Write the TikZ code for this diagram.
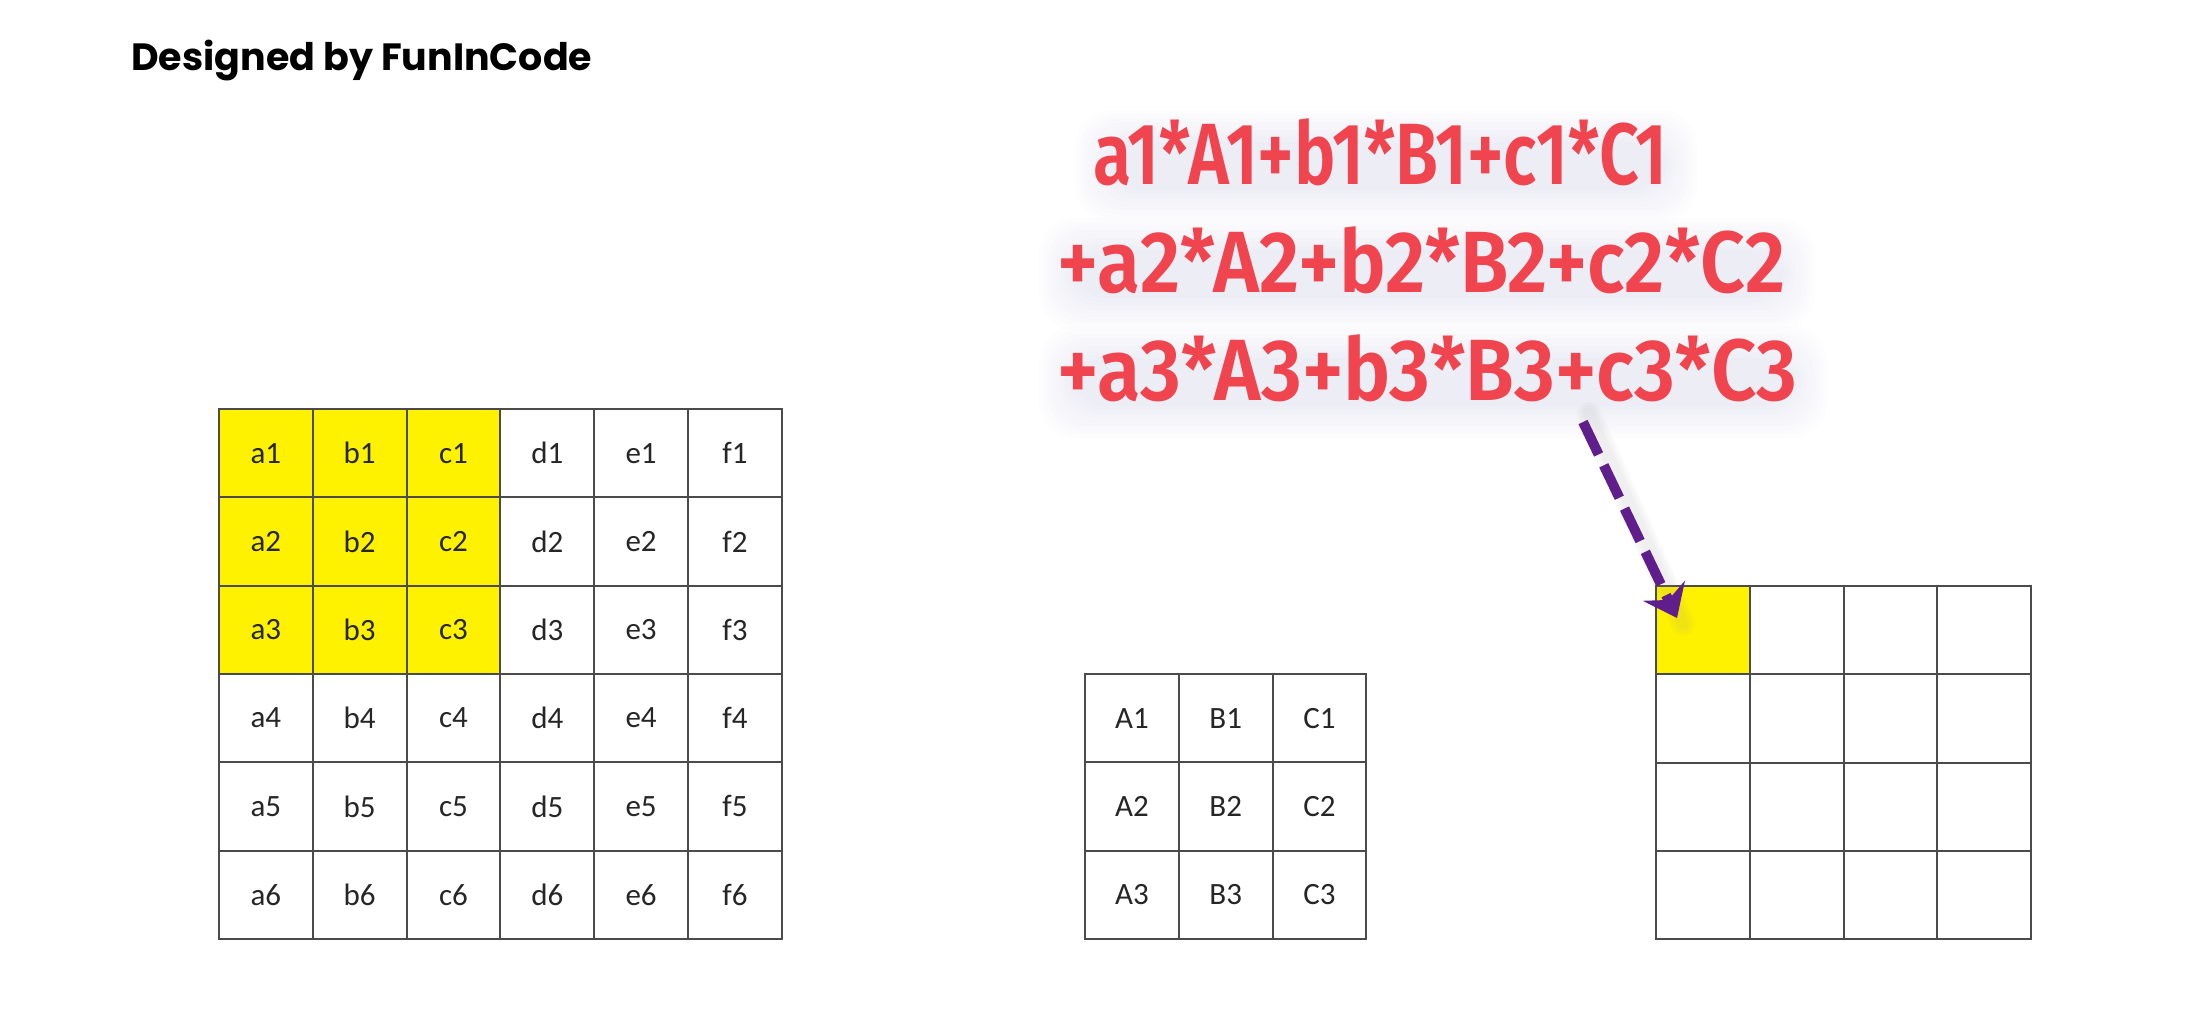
\documentclass[tikz,border=0pt]{standalone}
\usepackage{fontspec}
\usepackage{graphicx}
\usetikzlibrary{arrows.meta}
\setmainfont{Carlito}
\newfontfamily\titlef{Poppins}
\newfontfamily\redf{Fira Sans SemiBold}
\definecolor{redtxt}{RGB}{240,68,78}
\definecolor{glowcol}{RGB}{175,175,235}
\definecolor{arrowpurple}{RGB}{95,30,140}
\definecolor{gridline}{RGB}{75,75,75}
\definecolor{celltext}{RGB}{38,38,38}
\begin{document}
\begin{tikzpicture}[x=1pt,y=-1pt,
  cell/.style={draw=gridline, line width=2pt, minimum width=93.8pt, minimum height=88.3pt,
    inner sep=0pt, text=celltext, font=\fontsize{31}{33}\selectfont},
  formula/.style={anchor=base west, inner sep=0pt, text=redtxt,
    font=\redf\fontsize{87}{90}\selectfont},
  titlestyle/.style={anchor=base west, inner sep=0pt, text=black,
    font=\titlef\bfseries\fontsize{38}{40}\selectfont},
  flow/.style={draw=arrowpurple, line width=10pt, dash pattern=on 36pt off 12pt,
    -{Stealth[length=30pt,width=46pt,inset=10pt]}},
  flowshadow/.style={draw=black!40, line cap=round, opacity=0.05},
  haze/.style={fill=glowcol, opacity=0.022, rounded corners=36pt}
]
\useasboundingbox (0,0) rectangle (2201,1020);
\fill[white] (0,0) rectangle (2201,1020);

% title
\node[titlestyle] (title) at (131,70) {\resizebox{461pt}{\height}{Designed by FunInCode}};

% soft haze behind the formula lines (no text)
\foreach \m in {-8,-4,0,4,8,12,16,20,24} {
  \fill[haze] ({1093-\m+6},{124-\m+10}) rectangle ({1667+\m+6},{184+\m+14});
  \fill[haze] ({1057-\m+6},{232-\m+10}) rectangle ({1785+\m+6},{292+\m+14});
  \fill[haze] ({1057-\m+6},{340-\m+10}) rectangle ({1797+\m+6},{400+\m+14});
}

% left 6x6 grid
\foreach \c [count=\i] in {a,b,c,d,e,f} {
  \foreach \r in {1,...,6} {
    \ifnum\i<4 \ifnum\r<4 \def\fc{yellow}\else\def\fc{none}\fi \else \def\fc{none}\fi
    \node[cell, fill=\fc] (L-\r-\i) at ({219+93.8*(\i-0.5)},{409+88.3*(\r-0.5)}) {\c\r};
  }
}

% middle 3x3 grid
\foreach \c [count=\i] in {A,B,C} {
  \foreach \r in {1,2,3} {
    \node[cell] (M-\r-\i) at ({1085+93.8*(\i-0.5)},{674+88.3*(\r-0.5)}) {\c\r};
  }
}

% right 4x4 grid
\foreach \i in {1,...,4} {
  \foreach \r in {1,...,4} {
    \ifnum\i=1 \ifnum\r=1 \def\fc{yellow}\else\def\fc{none}\fi \else \def\fc{none}\fi
    \node[cell, fill=\fc] (R-\r-\i) at ({1656+93.8*(\i-0.5)},{586+88.3*(\r-0.5)}) {};
  }
}

% formula
\node[formula] (f1) at (1093,184) {\resizebox{574pt}{\height}{a1*A1+b1*B1+c1*C1}};
\node[formula] (f2) at (1057,292) {\resizebox{728pt}{\height}{+a2*A2+b2*B2+c2*C2}};
\node[formula] (f3) at (1057,400) {\resizebox{740pt}{\height}{+a3*A3+b3*B3+c3*C3}};

% arrow
\coordinate (arrS) at (1583,422);
\coordinate (arrE) at (1677,618);
\foreach \k in {12,18,24} {
  \draw[flowshadow, line width=\k pt] ([xshift=6pt,yshift=8pt]arrS) -- ([xshift=6pt,yshift=-6pt]arrE);
}
\draw[flow] (arrS) -- (arrE);
\end{tikzpicture}
\end{document}
